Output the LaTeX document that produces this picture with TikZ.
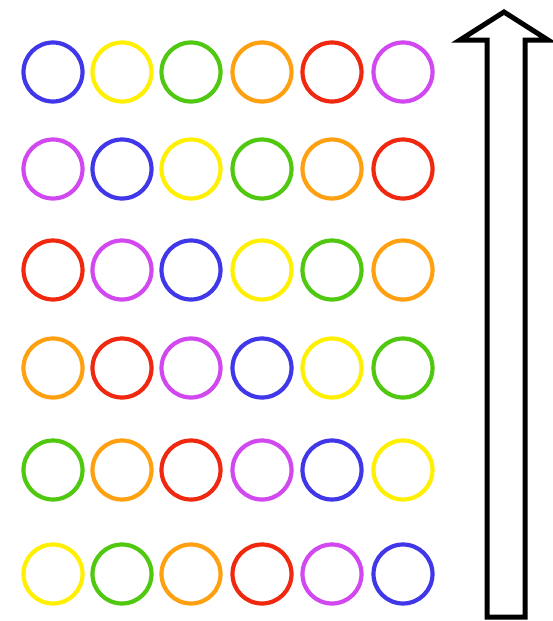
\documentclass[tikz,border=0pt]{standalone}
\definecolor{cblue}{RGB}{64,56,232}
\definecolor{cyellow}{RGB}{255,240,0}
\definecolor{cgreen}{RGB}{80,200,16}
\definecolor{corange}{RGB}{255,160,16}
\definecolor{cred}{RGB}{240,40,16}
\definecolor{cpurple}{RGB}{210,72,240}
\begin{document}
\begin{tikzpicture}[x=1pt,y=-1pt,
  ring/.style={circle,line width=4.2pt,minimum size=59pt,inner sep=0pt},
  B/.style={ring,draw=cblue}, Y/.style={ring,draw=cyellow}, G/.style={ring,draw=cgreen},
  O/.style={ring,draw=corange}, R/.style={ring,draw=cred}, P/.style={ring,draw=cpurple},
  bigarrow/.style={draw=black,line width=5pt,line join=miter,fill=white}]
\useasboundingbox (0,0) rectangle (552,621);
\fill[white] (0,0) rectangle (552,621);
\node[B] (c11) at (53,72) {};  \node[Y] (c12) at (122,72) {}; \node[G] (c13) at (191,72) {};
\node[O] (c14) at (262,72) {}; \node[R] (c15) at (332,72) {}; \node[P] (c16) at (403,72) {};
\node[P] (c21) at (53,169) {};  \node[B] (c22) at (122,169) {}; \node[Y] (c23) at (191,169) {};
\node[G] (c24) at (262,169) {}; \node[O] (c25) at (332,169) {}; \node[R] (c26) at (403,169) {};
\node[R] (c31) at (53,270) {};  \node[P] (c32) at (122,270) {}; \node[B] (c33) at (191,270) {};
\node[Y] (c34) at (262,270) {}; \node[G] (c35) at (332,270) {}; \node[O] (c36) at (403,270) {};
\node[O] (c41) at (53,368) {};  \node[R] (c42) at (122,368) {}; \node[P] (c43) at (191,368) {};
\node[B] (c44) at (262,368) {}; \node[Y] (c45) at (332,368) {}; \node[G] (c46) at (403,368) {};
\node[G] (c51) at (53,470) {};  \node[O] (c52) at (122,470) {}; \node[R] (c53) at (191,470) {};
\node[P] (c54) at (262,470) {}; \node[B] (c55) at (332,470) {}; \node[Y] (c56) at (403,470) {};
\node[Y] (c61) at (53,574) {};  \node[G] (c62) at (122,574) {}; \node[O] (c63) at (191,574) {};
\node[R] (c64) at (262,574) {}; \node[P] (c65) at (332,574) {}; \node[B] (c66) at (403,574) {};
\draw[bigarrow] (504,12) -- (548,40) -- (525,40) -- (525,617) -- (487,617) -- (487,40) -- (460,40) -- cycle;
\end{tikzpicture}
\end{document}
